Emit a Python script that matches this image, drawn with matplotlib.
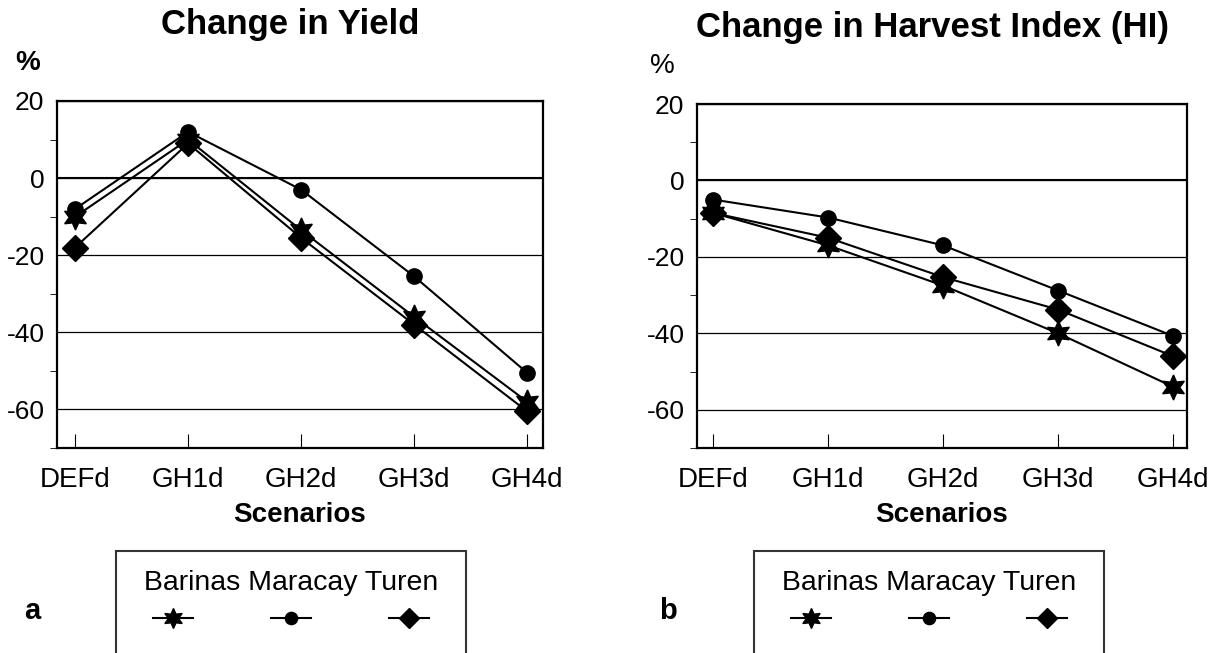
import matplotlib
matplotlib.use('Agg')
import matplotlib.pyplot as plt
from matplotlib.lines import Line2D
from matplotlib.ticker import MultipleLocator

plt.rcParams['font.family'] = ['Liberation Sans', 'DejaVu Sans']
plt.rcParams['axes.unicode_minus'] = False

scenarios = ['DEFd', 'GH1d', 'GH2d', 'GH3d', 'GH4d']
sites = ['Barinas', 'Maracay', 'Turen']

# change in yield (%)
yield_barinas = [-10, 10, -13.5, -36, -58]
yield_maracay = [-8, 12, -3, -25.5, -50.5]
yield_turen = [-18, 9, -15.5, -38, -60.5]

# change in harvest index (%)
hi_barinas = [-8.5, -17, -27.5, -40, -54]
hi_maracay = [-5, -9.7, -17, -28.8, -40.7]
hi_turen = [-8.5, -15, -25.3, -33.8, -46]

star = (6, 1, 0)  # six pointed star
markers = [star, 'o', 'D']
msizes = [18, 11, 13]

fig = plt.figure(figsize=(12.2, 6.53), dpi=100)
ax1 = fig.add_axes([57/1220, 1-448/653, 486/1220, 347/653])
ax2 = fig.add_axes([697/1220, 1-448/653, 490/1220, 344/653])

def draw(ax, series, title, xlim):
    x = range(len(scenarios))
    for vals, mk, ms in zip(series, markers, msizes):
        ax.plot(x, vals, color='black', lw=1.5, marker=mk, ms=ms, mfc='black', mec='black', zorder=3)
    ax.set_xlim(xlim)
    ax.set_ylim(-70, 20)
    ax.set_yticks([20, 0, -20, -40, -60])
    ax.yaxis.set_minor_locator(MultipleLocator(10))
    ax.set_xticks(list(x))
    ax.set_xticklabels(scenarios)
    ax.tick_params(axis='both', direction='in', labelsize=20, width=0.8)
    ax.tick_params(axis='y', which='major', length=0, pad=9, labelsize=19)
    ax.tick_params(axis='y', which='minor', length=5)
    ax.tick_params(axis='x', length=10, pad=14)
    ax.grid(axis='y', color='black', lw=0.9)
    ax.axhline(0, color='black', lw=1.5)
    for s in ax.spines.values():
        s.set_linewidth(1.6)
    ax.set_xlabel('Scenarios', fontsize=20, fontweight='bold', labelpad=6)
    ax.set_title(title, fontsize=25, fontweight='bold', pad=48)

draw(ax1, [yield_barinas, yield_maracay, yield_turen], 'Change in Yield', (-0.16, 4.14))
draw(ax2, [hi_barinas, hi_maracay, hi_turen], 'Change in Harvest Index (HI)', (-0.14, 4.12))
ax1.title.set_position((0.48, 1))
ax2.title.set_position((0.48, 1))

fig.text(28/1220, 1-63/653, '%', fontsize=20, fontweight='bold', ha='center', va='center')
fig.text(662/1220, 1-66/653, '%', fontsize=20, ha='center', va='center')
fig.text(32/1220, 1-611/653, 'a', fontsize=21, fontweight='bold', ha='center', va='center')
fig.text(668/1220, 1-611/653, 'b', fontsize=21, fontweight='bold', ha='center', va='center')

handles = [Line2D([], [], color='black', lw=1.5, marker=mk, ms=ms * 0.8, mfc='black')
           for mk, ms in zip(markers, msizes)]
for cx in (291/1220, 929/1220):
    leg = fig.legend(handles, ['', '', ''], ncol=3, title=' ' + ' '.join(sites) + ' ',
                     title_fontsize=20.5, fontsize=20, loc='upper center',
                     bbox_to_anchor=(cx, 1-551/653), borderaxespad=0,
                     frameon=True, fancybox=False,
                     edgecolor='black', borderpad=0.6, handlelength=1.45,
                     handleheight=1.8, handletextpad=0, columnspacing=2.8,
                     labelspacing=0.27)
    leg.get_frame().set_linewidth(1.5)
    leg._legend_box.pad = 14

fig.savefig('out.png', dpi=100, facecolor='white')
